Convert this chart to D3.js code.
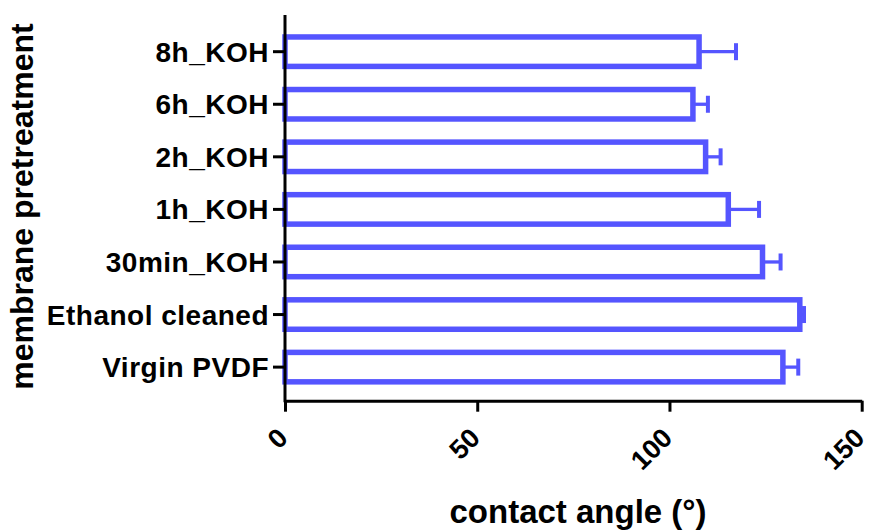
<!DOCTYPE html>
<html>
<head>
<meta charset="utf-8">
<script src="https://cdn.jsdelivr.net/npm/d3@7"></script>
<style>
  body { margin: 0; background: #fff; }
  text { font-family: "Liberation Sans", Arial, sans-serif; font-weight: bold; fill: #000; }
</style>
</head>
<body>
<div id="graph-container"></div>
<script>
// data (top to bottom)
const categories = ['8h_KOH', '6h_KOH', '2h_KOH', '1h_KOH', '30min_KOH', 'Ethanol cleaned', 'Virgin PVDF'];
const means = [107.7, 106.1, 109.4, 115.3, 124.2, 133.9, 129.5];
const errors = [9.6, 3.9, 3.9, 8.0, 4.7, 1.1, 4.0];
const xTicks = [0, 50, 100, 150];

const WIDTH = 869, HEIGHT = 530;
const blue = '#5555ff';

const svg = d3.select('#graph-container').append('svg')
    .attr('width', WIDTH)
    .attr('height', HEIGHT);

const xScale = d3.scaleLinear()
    .domain([0, 150])
    .range([285, 861.7]);

const yScale = d3.scaleBand()
    .domain(categories)
    .range([25.4, 393.4])
    .paddingInner(0.44)
    .paddingOuter(0.22);

const axisY0 = 15, axisY1 = 400.7;

// bars
const data = categories.map((c, i) => ({ cat: c, v: means[i], e: errors[i] }));

svg.append('g')
    .selectAll('rect')
    .data(data)
    .join('rect')
    .attr('x', xScale(0))
    .attr('y', (d) => yScale(d.cat))
    .attr('width', (d) => xScale(d.v) - xScale(0))
    .attr('height', yScale.bandwidth())
    .attr('fill', 'none')
    .attr('stroke', blue)
    .attr('stroke-width', 5.5);

// error bars
const err = svg.append('g');
err.selectAll('line.stem')
    .data(data)
    .join('line')
    .attr('class', 'stem')
    .attr('x1', (d) => xScale(d.v))
    .attr('x2', (d) => xScale(d.v + d.e))
    .attr('y1', (d) => yScale(d.cat) + yScale.bandwidth() / 2)
    .attr('y2', (d) => yScale(d.cat) + yScale.bandwidth() / 2)
    .attr('stroke', blue)
    .attr('stroke-width', 3.3);
err.selectAll('line.cap')
    .data(data)
    .join('line')
    .attr('class', 'cap')
    .attr('x1', (d) => xScale(d.v + d.e))
    .attr('x2', (d) => xScale(d.v + d.e))
    .attr('y1', (d) => yScale(d.cat) + yScale.bandwidth() / 2 - 8.5)
    .attr('y2', (d) => yScale(d.cat) + yScale.bandwidth() / 2 + 8.5)
    .attr('stroke', blue)
    .attr('stroke-width', 4);

// y axis
const yAxis = svg.append('g')
    .attr('transform', `translate(${xScale(0)},0)`)
    .call(d3.axisLeft(yScale).tickSize(12).tickPadding(4));
yAxis.select('.domain').remove();
yAxis.selectAll('.tick line').attr('stroke', '#000').attr('stroke-width', 3);
yAxis.selectAll('.tick text')
    .attr('font-size', 28)
    .attr('font-family', null)
    .attr('letter-spacing', 0.5)
    .attr('dy', '0.36em');
yAxis.append('line')
    .attr('x1', 0).attr('x2', 0)
    .attr('y1', axisY0).attr('y2', axisY1 + 1.5)
    .attr('stroke', '#000')
    .attr('stroke-width', 3);

// x axis
const xAxis = svg.append('g')
    .attr('transform', `translate(0,${axisY1})`)
    .call(d3.axisBottom(xScale).tickValues(xTicks).tickSize(11).tickSizeOuter(0));
xAxis.select('.domain').attr('stroke', '#000').attr('stroke-width', 3);
xAxis.selectAll('.tick line').attr('stroke', '#000').attr('stroke-width', 3);
xAxis.selectAll('.tick text')
    .attr('font-size', 27)
    .attr('font-family', null)
    .attr('text-anchor', 'end')
    .attr('y', 0)
    .attr('dy', 0)
    .attr('transform', 'translate(4,39) rotate(-45)');

// axis titles
svg.append('text')
    .attr('x', 578)
    .attr('y', 523)
    .attr('text-anchor', 'middle')
    .attr('font-size', 33)
    .text('contact angle (°)');

svg.append('text')
    .attr('transform', 'translate(33,206.5) rotate(-90)')
    .attr('text-anchor', 'middle')
    .attr('font-size', 32)
    .text('membrane pretreatment');
</script>
</body>
</html>
